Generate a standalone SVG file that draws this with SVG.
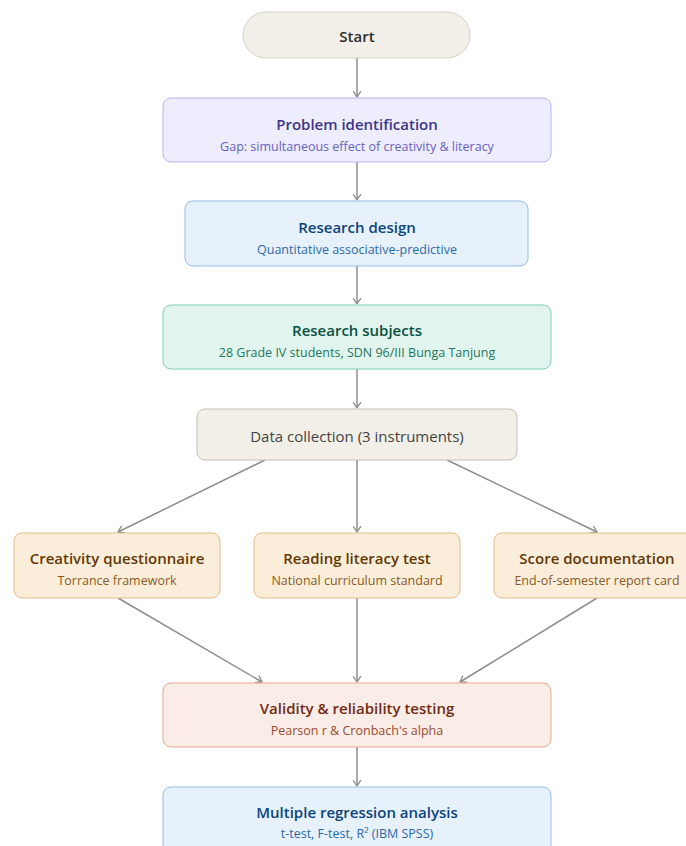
<svg xmlns="http://www.w3.org/2000/svg" width="686" height="846" viewBox="0 0 686 846">
<style>
.t{font-family:"Open Sans","Noto Sans","Liberation Sans",sans-serif;font-size:15px;font-weight:600;text-anchor:middle;dominant-baseline:central}
.s{font-family:"Open Sans","Noto Sans","Liberation Sans",sans-serif;font-size:12.5px;font-weight:400;text-anchor:middle;dominant-baseline:central}
.gray rect{fill:#f1efe8;stroke:#c2c0b8}
.gray text{fill:#2c2c2a}
.purple rect{fill:#eeedfe;stroke:#b8b3ec}
.purple .t{fill:#3c3489}.purple .s{fill:#6a62c0}
.blue rect{fill:#e6f1fb;stroke:#94bde8}
.blue .t{fill:#0c447c}.blue .s{fill:#2c6aa8}
.teal rect{fill:#e1f5ee;stroke:#7fcfb2}
.teal .t{fill:#085041}.teal .s{fill:#1f7560}
.amber rect{fill:#faeeda;stroke:#e3bd85}
.amber .t{fill:#633806}.amber .s{fill:#8a5a1e}
.coral rect{fill:#faece7;stroke:#e8a690}
.coral .t{fill:#712b13}.coral .s{fill:#9a4a2e}
rect{stroke-width:1}
.c path{fill:none;stroke:#8c8c88;stroke-width:1.5}
</style>
<defs>
<marker id="a" viewBox="0 0 10 10" refX="8" refY="5" markerWidth="6" markerHeight="6" orient="auto-start-reverse">
<path d="M2 1L8 5L2 9" fill="none" stroke="#8c8c88" stroke-width="1.5" stroke-linecap="round" stroke-linejoin="round"/>
</marker>
</defs>
<g class="c">
<path d="M357 58V97" marker-end="url(#a)"/>
<path d="M357 162V200" marker-end="url(#a)"/>
<path d="M357 266V304" marker-end="url(#a)"/>
<path d="M357 369V408" marker-end="url(#a)"/>
<path d="M265 460L118 532" marker-end="url(#a)"/>
<path d="M357 460V532" marker-end="url(#a)"/>
<path d="M447 460L597 532" marker-end="url(#a)"/>
<path d="M118 598L262 682" marker-end="url(#a)"/>
<path d="M357 598V682" marker-end="url(#a)"/>
<path d="M597 598L460 682" marker-end="url(#a)"/>
<path d="M357 747V786" marker-end="url(#a)"/>
</g>
<g id="start" class="gray"><rect x="243" y="12" width="227" height="46" rx="23" style="stroke:#d3d1c7"/><text class="t" x="357" y="36">Start</text></g>
<g id="problem" class="purple"><rect x="163" y="98" width="388" height="64" rx="8"/><text class="t" x="357" y="124">Problem identification</text><text class="s" x="357" y="146">Gap: simultaneous effect of creativity &amp; literacy</text></g>
<g id="design" class="blue"><rect x="185" y="201" width="343" height="65" rx="8"/><text class="t" x="357" y="227">Research design</text><text class="s" x="357" y="249">Quantitative associative-predictive</text></g>
<g id="subjects" class="teal"><rect x="163" y="305" width="388" height="64" rx="8"/><text class="t" x="357" y="330">Research subjects</text><text class="s" x="357" y="352">28 Grade IV students, SDN 96/III Bunga Tanjung</text></g>
<g id="collection" class="gray"><rect x="197" y="409" width="320" height="51" rx="8"/><text class="t" x="357" y="436" style="font-weight:500;fill:#444441">Data collection (3 instruments)</text></g>
<g id="creativity" class="amber"><rect x="14" y="533" width="206" height="65" rx="8"/><text class="t" x="117" y="558">Creativity questionnaire</text><text class="s" x="117" y="580">Torrance framework</text></g>
<g id="reading" class="amber"><rect x="254" y="533" width="206" height="65" rx="8"/><text class="t" x="357" y="558">Reading literacy test</text><text class="s" x="357" y="580">National curriculum standard</text></g>
<g id="score" class="amber"><rect x="494" y="533" width="206" height="65" rx="8"/><text class="t" x="597" y="558">Score documentation</text><text class="s" x="597" y="580">End-of-semester report card</text></g>
<g id="validity" class="coral"><rect x="163" y="683" width="388" height="64" rx="8"/><text class="t" x="357" y="708">Validity &amp; reliability testing</text><text class="s" x="357" y="730">Pearson r &amp; Cronbach's alpha</text></g>
<g id="regression" class="blue"><rect x="163" y="787" width="388" height="70" rx="8"/><text class="t" x="357" y="812">Multiple regression analysis</text><text class="s" x="357" y="833">t-test, F-test, R² (IBM SPSS)</text></g>
</svg>
